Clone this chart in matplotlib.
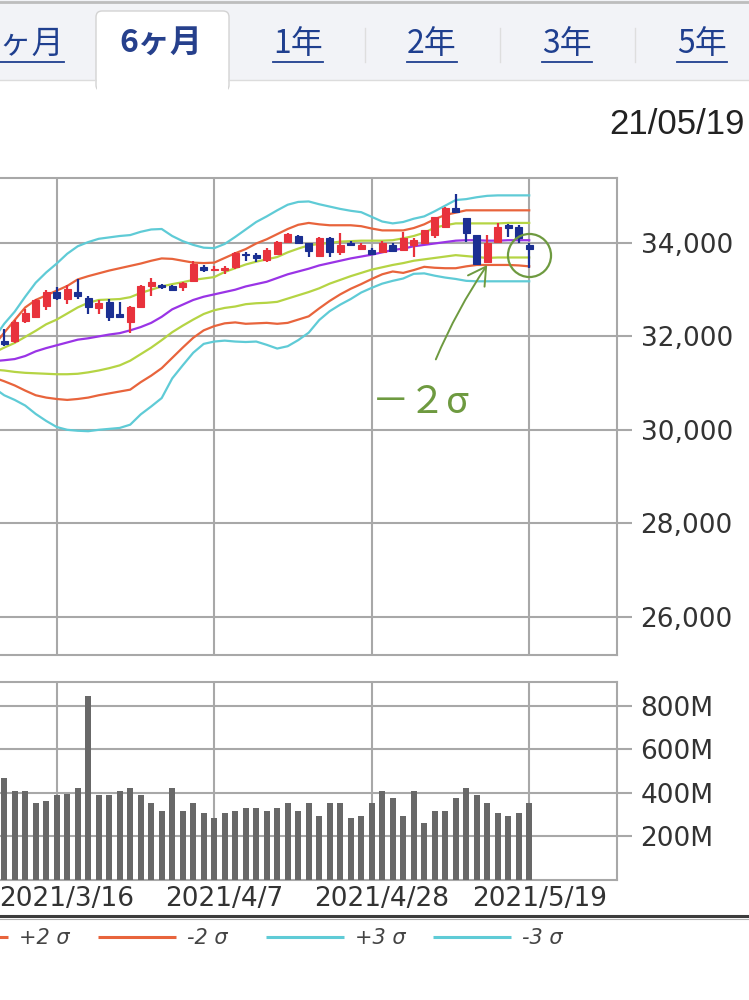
import matplotlib
matplotlib.use('Agg')
import matplotlib.pyplot as plt
import numpy as np
from matplotlib.patches import Rectangle, FancyBboxPatch
from matplotlib.transforms import ScaledTranslation

plt.rcParams['font.family'] = ['DejaVu Sans']
JP = ['Noto Sans CJK JP', 'DejaVu Sans']

# ---- data ----
dates = ['3/8', '3/9', '3/10', '3/11', '3/12', '3/15', '3/16', '3/17', '3/18', '3/19',
         '3/22', '3/23', '3/24', '3/25', '3/26', '3/29', '3/30', '3/31', '4/1', '4/5',
         '4/6', '4/7', '4/8', '4/9', '4/12', '4/13', '4/14', '4/15', '4/16', '4/19',
         '4/20', '4/21', '4/22', '4/23', '4/26', '4/27', '4/28', '4/29', '4/30', '5/3',
         '5/4', '5/5', '5/6', '5/7', '5/10', '5/11', '5/12', '5/13', '5/14', '5/17',
         '5/18', '5/19']
opens = [31500, 31900, 31900, 32330, 32420, 32650, 32950, 32800, 32950, 32830,
         32600, 32730, 32480, 32300, 32640, 33070, 33100, 33070, 33050, 33180,
         33490, 33430, 33420, 33490, 33760, 33740, 33640, 33760, 34030, 34160,
         34000, 33720, 34110, 33800, 33990, 33870, 33850, 33810, 33960, 33860,
         33960, 34000, 34170, 34340, 34760, 34530, 34170, 33600, 34020, 34380,
         34340, 33960]
highs = [31900, 32160, 32350, 32580, 32800, 33000, 33050, 33100, 33220, 32870,
         32780, 32800, 32730, 32650, 33100, 33260, 33120, 33100, 33170, 33620,
         33520, 33500, 33510, 33810, 33810, 33780, 33900, 34040, 34220, 34180,
         34010, 34130, 34130, 34210, 34050, 33990, 33900, 34050, 34000, 34230,
         34100, 34280, 34560, 34780, 35060, 34540, 34180, 34170, 34430, 34400,
         34380, 34000]
lows = [31480, 31800, 31850, 32280, 32400, 32560, 32780, 32700, 32800, 32480,
        32480, 32330, 32400, 32080, 32600, 32860, 33020, 32980, 32980, 33170,
        33380, 33390, 33340, 33450, 33620, 33600, 33600, 33740, 34020, 33980,
        33700, 33700, 33690, 33750, 33940, 33850, 33740, 33780, 33800, 33830,
        33700, 33990, 34100, 34320, 34640, 34020, 33530, 33580, 34000, 34120,
        33990, 33470]
closes = [31800, 31830, 32300, 32500, 32780, 32950, 32830, 33020, 32860, 32630,
          32720, 32420, 32420, 32620, 33070, 33170, 33060, 32990, 33150, 33560,
          33430, 33450, 33470, 33790, 33740, 33680, 33860, 34030, 34200, 34010,
          33820, 34110, 33810, 33960, 33960, 33960, 33760, 34000, 33830, 34100,
          34060, 34270, 34550, 34740, 34660, 34210, 33540, 34000, 34340, 34320,
          34110, 33880]
volumes = [420, 467, 411, 411, 352, 365, 391, 395, 421, 847,
           391, 391, 411, 421, 391, 352, 319, 421, 319, 352,
           306, 283, 306, 319, 329, 329, 319, 329, 352, 319,
           352, 296, 352, 352, 283, 296, 352, 411, 375, 296,
           411, 261, 319, 319, 375, 421, 391, 352, 306, 296,
           306, 352]  # millions

mid = [31470, 31490, 31515, 31580, 31680, 31750, 31810, 31870, 31930, 31960,
       32000, 32040, 32070, 32130, 32200, 32290, 32420, 32580, 32680, 32780,
       32850, 32900, 32950, 33000, 33070, 33120, 33170, 33250, 33330, 33390,
       33450, 33520, 33570, 33620, 33670, 33710, 33750, 33800, 33850, 33880,
       33930, 33960, 33990, 34020, 34050, 34060, 34060, 34050, 34050, 34060,
       34060, 34060]
up1 = [31650, 31760, 31860, 31990, 32120, 32260, 32360, 32490, 32620, 32720,
       32780, 32790, 32800, 32840, 32930, 33000, 33070, 33120, 33160, 33210,
       33240, 33270, 33380, 33460, 33540, 33600, 33650, 33700, 33800, 33880,
       33950, 33980, 34000, 34030, 34040, 34050, 34050, 34050, 34060, 34100,
       34150, 34220, 34330, 34380, 34420, 34420, 34420, 34420, 34420, 34430,
       34430, 34430]
up2 = [31800, 32080, 32350, 32620, 32780, 32880, 32980, 33080, 33220, 33290,
       33350, 33410, 33460, 33510, 33560, 33620, 33670, 33660, 33620, 33580,
       33570, 33580, 33680, 33780, 33870, 33990, 34080, 34190, 34300, 34390,
       34430, 34400, 34380, 34380, 34380, 34360, 34310, 34270, 34270, 34270,
       34320, 34400, 34510, 34600, 34650, 34700, 34700, 34700, 34700, 34700,
       34700, 34700]
up3 = [31950, 32270, 32530, 32850, 33150, 33370, 33560, 33770, 33930, 34020,
       34090, 34120, 34150, 34170, 34240, 34290, 34300, 34150, 34040, 33960,
       33900, 33890, 33980, 34130, 34290, 34450, 34570, 34700, 34820, 34880,
       34890, 34830, 34780, 34730, 34690, 34660, 34560, 34460, 34420, 34450,
       34520, 34570, 34680, 34800, 34920, 34940, 34980, 35010, 35020, 35020,
       35020, 35020]
lo1 = [31290, 31270, 31240, 31220, 31210, 31200, 31190, 31190, 31200, 31230,
       31270, 31320, 31380, 31480, 31620, 31760, 31920, 32090, 32230, 32360,
       32480, 32560, 32610, 32640, 32690, 32710, 32720, 32740, 32810, 32880,
       32950, 33030, 33130, 33210, 33290, 33360, 33430, 33480, 33530, 33570,
       33620, 33650, 33680, 33710, 33740, 33720, 33700, 33680, 33690, 33690,
       33690, 33690]
lo2 = [31120, 31040, 30950, 30840, 30740, 30690, 30660, 30640, 30660, 30690,
       30740, 30780, 30820, 30860, 31020, 31160, 31320, 31540, 31760, 31970,
       32130, 32220, 32280, 32300, 32270, 32280, 32290, 32270, 32290, 32360,
       32430, 32600, 32760, 32900, 33020, 33120, 33230, 33330, 33390, 33360,
       33420, 33490, 33470, 33460, 33460, 33500, 33530, 33530, 33530, 33530,
       33520, 33500]
lo3 = [30900, 30740, 30640, 30520, 30340, 30190, 30060, 30000, 29980, 29970,
       30000, 30020, 30040, 30110, 30330, 30500, 30680, 31100, 31380, 31650,
       31840, 31890, 31910, 31890, 31880, 31890, 31820, 31740, 31790, 31920,
       32080, 32350, 32540, 32680, 32800, 32940, 33040, 33130, 33190, 33240,
       33340, 33350, 33300, 33260, 33230, 33190, 33180, 33180, 33180, 33180,
       33180, 33180]

tick_dates = ['3/16', '4/7', '4/28', '5/19']
tick_labels = ['2021/3/16', '2021/4/7', '2021/4/28', '2021/5/19']
price_ticks = [26000, 28000, 30000, 32000, 34000]
vol_ticks = [200, 400, 600, 800]
tabs = ['3ヶ月', '6ヶ月', '1年', '2年', '3年', '5年']
legend_items = [('+2 σ', '#e8643c'), ('-2 σ', '#e8643c'), ('+3 σ', '#5fcbd6'), ('-3 σ', '#5fcbd6')]
last_date = '21/05/19'

RED = '#e8323c'
BLUE = '#1b2f92'
GRID = '#a8a8a8'
GREEN = '#6e9a40'
LINK = '#1f3f8f'

x = np.arange(len(dates))
x0 = dates.index('3/16')
xlim = (x0 - 5.4, x0 + 53.36)
ticks_x = [dates.index(d) for d in tick_dates]

fig = plt.figure(figsize=(7.49, 10), dpi=100)

# ---- page furniture (pixel coordinates) ----
bg = fig.add_axes([0, 0, 1, 1])
bg.set_xlim(0, 749)
bg.set_ylim(1000, 0)
bg.axis('off')
bg.add_patch(Rectangle((0, 0), 749, 80, fc='#f2f3f7', ec='none'))
bg.plot([0, 749], [1.5, 1.5], color='#bdbdbd', lw=2)
bg.plot([0, 749], [80, 80], color='#dcdcdc', lw=1)
bg.add_patch(FancyBboxPatch((96, 11), 133, 80, boxstyle='round,pad=0,rounding_size=6',
                            fc='white', ec='#d3d3d3', lw=1))
bg.add_patch(Rectangle((96.6, 79), 131.8, 20, fc='white', ec='none', zorder=3))
for sx in [365, 500, 635]:
    bg.plot([sx, sx], [28, 62], color='#dedede', lw=1)

tab_x = [64, 161, 298, 432, 567, 702]
tab_objs = []
for i, (t, tx) in enumerate(zip(tabs, tab_x)):
    if i == 0:
        o = bg.text(tx, 44, t, ha='right', va='center', fontsize=23, color=LINK, family=JP)
    elif i == 1:
        o = bg.text(tx, 44, t, ha='center', va='center', fontsize=23, color='#26408c',
                    family=JP, fontweight='bold')
    else:
        o = bg.text(tx, 44, t, ha='center', va='center', fontsize=23, color=LINK, family=JP)
    tab_objs.append((i, o))

bg.text(745, 125, last_date, ha='right', va='center', fontsize=25, color='#222222',
        family=['Liberation Sans', 'DejaVu Sans'])

bg.plot([0, 749], [915.5, 915.5], color='#3c3c3c', lw=2.2)
bg.plot([0, 749], [919, 919], color='#b0b0b0', lw=0.8)

leg_x = [-70, 98, 266, 433]
for (lab, col), lx in zip(legend_items, leg_x):
    bg.plot([lx, lx + 78], [937, 937], color=col, lw=2.2, solid_capstyle='butt')
    bg.text(lx + 89, 938, lab, ha='left', va='center', fontsize=15, color='#444444',
            fontstyle='italic')

# ---- price panel ----
ax = fig.add_axes([0, 1 - 655 / 1000, 617 / 749, (655 - 178) / 1000])
ax.set_zorder(2)
ax.set_xlim(*xlim)
ax.set_ylim(25178, 35392)

band_style = [(up3, '#5fcbd6'), (lo3, '#5fcbd6'), (up2, '#e8643c'), (lo2, '#e8643c'),
              (up1, '#b5d444'), (lo1, '#b5d444'), (mid, '#9a34e6')]
for vals, col in band_style:
    ax.plot(x, vals, color=col, lw=1.6, zorder=2)

o = np.array(opens)
c = np.array(closes)
cols = [RED if cc >= oo else BLUE for oo, cc in zip(o, c)]
ax.vlines(x, lows, highs, colors=cols, lw=1.6, zorder=3)
ax.bar(x, np.abs(c - o), bottom=np.minimum(o, c), width=0.64, color=cols,
       edgecolor=cols, lw=0.8, zorder=4)

ax.set_yticks(price_ticks)
ax.set_yticklabels([f'{v:,}' for v in price_ticks])
ax.set_xticks(ticks_x)
ax.set_xticklabels([])
ax.grid(True, color=GRID, lw=1.5)
ax.set_axisbelow(True)
ax.yaxis.tick_right()
ax.tick_params(axis='y', length=11, width=1.5, color=GRID, pad=6, labelsize=19,
               labelcolor='#333333')
ax.tick_params(axis='x', length=0)
for s in ['top', 'right', 'bottom']:
    ax.spines[s].set_color(GRID)
    ax.spines[s].set_linewidth(1.5)
ax.spines['left'].set_visible(False)

# annotation: circle on the last candle, arrow to the -2 sigma touch
last = len(dates) - 1
ax.plot(last, (highs[last] + lows[last]) / 2, 'o', ms=31, mfc='none', mec=GREEN,
        mew=1.6, zorder=6, clip_on=False)
touch = dates.index('5/13')
ax.annotate('', xy=(touch, lo2[touch]), xytext=(-37, -68), textcoords='offset points',
            arrowprops=dict(arrowstyle='->, head_length=0.7, head_width=0.4', color=GREEN,
                            lw=1.4, mutation_scale=18, shrinkA=0, shrinkB=0,
                            connectionstyle='arc3,rad=-0.05'),
            zorder=6, annotation_clip=False)
ax.annotate('－２σ', xy=(touch, lo2[touch]), xytext=(-48, -99), textcoords='offset points',
            ha='center', va='center', fontsize=27, color=GREEN, family=JP,
            zorder=6, annotation_clip=False)

# ---- volume panel ----
av = fig.add_axes([0, 1 - 880 / 1000, 617 / 749, (880 - 682) / 1000])
av.set_zorder(2)
av.set_xlim(*xlim)
av.set_ylim(0, 910)
av.bar(x, volumes, width=0.6, color='#686868', zorder=3)
av.set_yticks(vol_ticks)
av.set_yticklabels([f'{v}M' for v in vol_ticks])
av.set_xticks(ticks_x)
av.set_xticklabels(tick_labels)
av.grid(True, color=GRID, lw=1.5)
av.set_axisbelow(True)
av.yaxis.tick_right()
av.tick_params(axis='y', length=11, width=1.5, color=GRID, pad=6, labelsize=19,
               labelcolor='#333333')
av.tick_params(axis='x', length=0, pad=4, labelsize=19, labelcolor='#333333')
for s in ['top', 'right', 'bottom']:
    av.spines[s].set_color(GRID)
    av.spines[s].set_linewidth(1.5)
av.spines['left'].set_visible(False)
shift = ScaledTranslation(10 / 100, 0, fig.dpi_scale_trans)
for lab in av.get_xticklabels():
    lab.set_transform(lab.get_transform() + shift)

# underline the link tabs
fig.canvas.draw()
inv = bg.transData.inverted()
for i, t in tab_objs:
    if i == 1:
        continue
    bb = t.get_window_extent()
    (xa, _), (xb, _) = inv.transform([(bb.x0, bb.y0), (bb.x1, bb.y0)])
    bg.plot([max(xa, 0), xb], [62, 62], color=LINK, lw=1.3)

fig.savefig('out.png', dpi=100)
